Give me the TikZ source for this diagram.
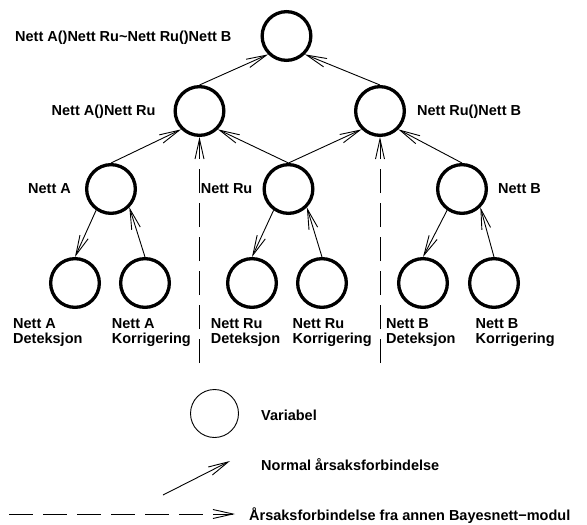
\documentclass[tikz,border=0pt]{standalone}
\usepackage{fontspec}
\setmainfont{Liberation Sans}
\usetikzlibrary{arrows.meta}

\begin{document}
\begin{tikzpicture}[x=1pt,y=-1pt,
  var/.style={circle, draw, line width=3.3pt, minimum size=48.7pt, inner sep=0pt},
  legvar/.style={circle, draw, line width=0.9pt, minimum size=48pt, inner sep=0pt},
  lbl/.style={font=\fontsize{14.5}{15}\selectfont\bfseries, inner sep=0pt, anchor=base west},
  lbltwo/.style={font=\fontsize{14.5}{15}\selectfont\bfseries, inner sep=0pt, anchor=north west, align=left},
  cause/.style={line width=0.9pt, -{Straight Barb[length=20pt,width=9pt]}},
  extcause/.style={cause, dash pattern=on 24pt off 10pt}]

\useasboundingbox (0,0) rectangle (587,525);

% network nodes
\node[var] (top) at (286.5,36) {};
\node[var] (l2a) at (199.5,111) {};
\node[var] (l2b) at (380,111) {};
\node[var] (na)  at (111,189) {};
\node[var] (nru) at (288.5,189) {};
\node[var] (nb)  at (462,189) {};
\node[var] (da)  at (75,283) {};
\node[var] (ka)  at (145,283) {};
\node[var] (dru) at (252,283) {};
\node[var] (kru) at (322,283) {};
\node[var] (db)  at (423,283) {};
\node[var] (kb)  at (494,283) {};

% labels
\node[lbl] (ttop) at (15,41.5) {Nett A()Nett Ru\char`~Nett Ru()Nett B};
\node[lbl] (tl2a) at (51.5,115.5) {Nett A()Nett Ru};
\node[lbl] (tl2b) at (417,115.5) {Nett Ru()Nett B};
\node[lbl] (tna)  at (28,193) {Nett A};
\node[lbl] (tnru) at (200.6,193) {Nett Ru};
\node[lbl] (tnb)  at (498,193) {Nett B};
\node[lbltwo] (tda)  at (13,318.5) {Nett A\\Deteksjon};
\node[lbltwo] (tka)  at (111.7,318.5) {Nett A\\Korrigering};
\node[lbltwo] (tdru) at (210.7,318.5) {Nett Ru\\Deteksjon};
\node[lbltwo] (tkru) at (292.5,318.5) {Nett Ru\\Korrigering};
\node[lbltwo] (tdb)  at (386,318.5) {Nett B\\Deteksjon};
\node[lbltwo] (tkb)  at (475.5,318.5) {Nett B\\Korrigering};

% causal links between levels
\draw[cause] (l2a.north) -- (top.225);
\draw[cause] (l2b.north) -- (top.315);
\draw[cause] (na.north) -- (l2a.225);
\draw[cause] (nru.north) -- (l2a.315);
\draw[cause] (nru.north) -- (l2b.225);
\draw[cause] (nb.north) -- (l2b.315);
\draw[cause] (na.235) -- (da.north);
\draw[cause] (ka.north) -- (na.315);
\draw[cause] (nru.235) -- (dru.north);
\draw[cause] (kru.north) -- (nru.315);
\draw[cause] (nb.235) -- (db.north);
\draw[cause] (kb.north) -- (nb.315);

% links coming from other modules
\coordinate (xa) at (l2a.center |- 0,363);
\coordinate (xb) at (l2b.center |- 0,363);
\draw[extcause] (xa) -- (l2a.south);
\draw[extcause] (xb) -- (l2b.south);

% legend
\node[legvar] (lv) at (214.5,413.5) {};
\node[lbl] (tlv) at (261,420) {Variabel};
\coordinate (nt) at (163,495);
\coordinate (nh) at (230,461);
\draw[cause] (nt) -- (nh);
\node[lbl] (tnl) at (261,470) {Normal årsaksforbindelse};
\coordinate (et) at (9,514);
\coordinate (eh) at (235,514);
\draw[extcause] (et) -- (eh);
\node[lbl] (tel) at (249,520.5) {Årsaksforbindelse fra annen Bayesnett−modul};

\end{tikzpicture}
\end{document}
